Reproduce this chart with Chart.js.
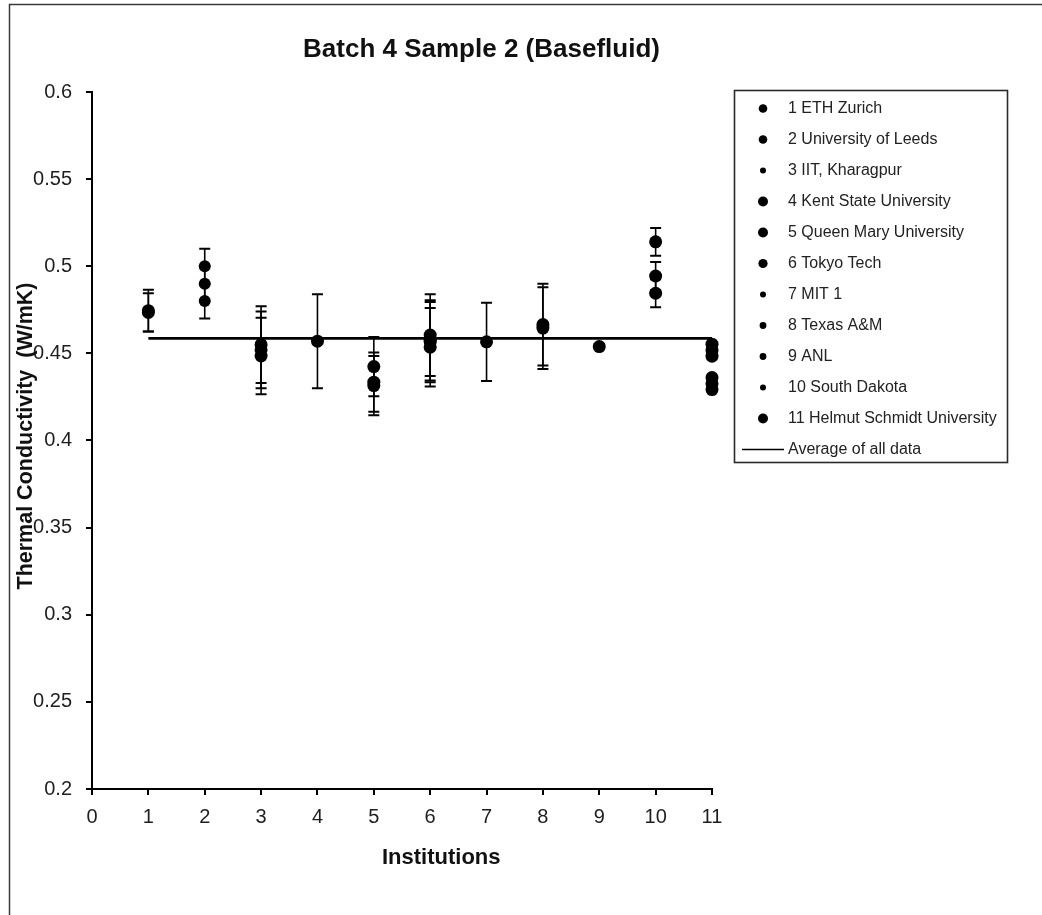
<!DOCTYPE html>
<html>
<head>
<meta charset="utf-8">
<title>Batch 4 Sample 2 (Basefluid)</title>
<script src="https://cdn.jsdelivr.net/npm/chart.js@4.4.1/dist/chart.umd.min.js"></script>
<style>
  html, body { margin: 0; padding: 0; background: #ffffff; }
  canvas { display: block; }
</style>
</head>
<body>
<canvas id="chart" width="1042" height="915"></canvas>
<script>
// ---- data ---------------------------------------------------------------
const seriesNames = [
  '1 ETH Zurich', '2 University of Leeds', '3 IIT, Kharagpur', '4 Kent State University',
  '5 Queen Mary University', '6 Tokyo Tech', '7 MIT 1', '8 Texas A&M', '9 ANL',
  '10 South Dakota', '11 Helmut Schmidt University'
];
const averageLabel = 'Average of all data';

// thermal conductivity readings (W/mK) and their uncertainties, per institution
const ethValues      = [0.4745, 0.4735];
const ethErrors      = [0.012, 0.011];
const leedsValues    = [0.500, 0.490, 0.480];
const leedsErrors    = [0.010, 0.010, 0.010];
const iitValues      = [0.455, 0.452, 0.4485];
const iitErrors      = [0.022, 0.022, 0.022];
const kentValues     = [0.457];
const kentErrors     = [0.027];
const queenValues    = [0.4424, 0.4335, 0.4315];
const queenErrors    = [0.017, 0.017, 0.017];
const tokyoValues    = [0.4605, 0.4575, 0.4565, 0.4535];
const tokyoErrors    = [0.0235, 0.023, 0.023, 0.0225];
const mitValues      = [0.4566];
const mitErrors      = [0.0225];
const texasValues    = [0.4665, 0.4645];
const texasErrors    = [0.0235, 0.0235];
const anlValues      = [0.4539];
const anlErrors      = [0.0015];
const dakotaValues   = [0.514, 0.4944, 0.4845];
const dakotaErrors   = [0.008, 0.008, 0.008];
const helmutValues   = [0.4553, 0.4518, 0.4484, 0.4361, 0.4326, 0.4292];
const helmutErrors   = [0, 0, 0, 0, 0, 0];

const averageValue = 0.4586;
const averageSpan  = [1, 11];

const xTicks = [0, 1, 2, 3, 4, 5, 6, 7, 8, 9, 10, 11];
const yTicks = [0.2, 0.25, 0.3, 0.35, 0.4, 0.45, 0.5, 0.55, 0.6];

const chartTitle = 'Batch 4 Sample 2 (Basefluid)';
const xTitle = 'Institutions';
const yTitle = 'Thermal Conductivity  (W/mK)';

// ---- datasets -----------------------------------------------------------
const measured = [
  [ethValues, ethErrors], [leedsValues, leedsErrors], [iitValues, iitErrors],
  [kentValues, kentErrors], [queenValues, queenErrors], [tokyoValues, tokyoErrors],
  [mitValues, mitErrors], [texasValues, texasErrors], [anlValues, anlErrors],
  [dakotaValues, dakotaErrors], [helmutValues, helmutErrors]
];
// legend marker sizes differ per series
const legendMarkerRadius = [4.3, 4.3, 3, 5, 5, 4.6, 3, 3.4, 3.4, 3, 5];

const FONT = '"Liberation Sans", Arial, Helvetica, sans-serif';

const datasets = measured.map(([vals, errs], i) => ({
  label: seriesNames[i],
  data: vals.map(v => ({ x: i + 1, y: v })),
  errors: errs,
  legendRadius: legendMarkerRadius[i],
  pointStyle: 'circle',
  pointRadius: i === 1 ? 6 : 6.5,
  pointHoverRadius: i === 1 ? 6 : 6.5,
  backgroundColor: '#000000',
  borderColor: '#000000',
  borderWidth: 0,
  showLine: false,
  clip: false
}));

datasets.push({
  label: averageLabel,
  data: averageSpan.map(x => ({ x, y: averageValue })),
  isAverage: true,
  showLine: true,
  borderColor: '#000000',
  borderWidth: 2.6,
  pointRadius: 0,
  pointHoverRadius: 0,
  clip: false
});

// ---- plugins ------------------------------------------------------------
const errorBars = {
  id: 'errorBars',
  beforeDatasetsDraw(chart) {
    const { ctx } = chart;
    const xs = chart.scales.x, ys = chart.scales.y;
    ctx.save();
    ctx.strokeStyle = '#000000';
    chart.data.datasets.forEach(ds => {
      if (!ds.errors) return;
      ds.data.forEach((p, i) => {
        const e = ds.errors[i];
        if (!e) return;
        const px = xs.getPixelForValue(p.x);
        const top = ys.getPixelForValue(p.y + e);
        const bot = ys.getPixelForValue(p.y - e);
        ctx.lineWidth = 1.6;
        ctx.beginPath();
        ctx.moveTo(px, top);
        ctx.lineTo(px, bot);
        ctx.stroke();
        ctx.lineWidth = 2;
        ctx.beginPath();
        ctx.moveTo(px - 5.5, top); ctx.lineTo(px + 5.5, top);
        ctx.moveTo(px - 5.5, bot); ctx.lineTo(px + 5.5, bot);
        ctx.stroke();
      });
    });
    ctx.restore();
  }
};

const decorations = {
  id: 'decorations',
  afterDraw(chart) {
    const { ctx } = chart;
    ctx.save();

    // outer frame (left and top edges)
    ctx.strokeStyle = '#3a3a3a';
    ctx.lineWidth = 1.5;
    ctx.beginPath();
    ctx.moveTo(9.5, 920);
    ctx.lineTo(9.5, 4.5);
    ctx.lineTo(1050, 4.5);
    ctx.stroke();

    // chart title
    ctx.fillStyle = '#111111';
    ctx.font = 'bold 26px ' + FONT;
    ctx.textAlign = 'center';
    ctx.textBaseline = 'alphabetic';
    ctx.fillText(chartTitle, 481.5, 57);

    // x axis title
    ctx.font = 'bold 22px ' + FONT;
    ctx.textAlign = 'left';
    ctx.fillText(xTitle, 382, 864);

    // y axis title
    ctx.save();
    ctx.translate(32, 436);
    ctx.rotate(-Math.PI / 2);
    ctx.font = 'bold 21.5px ' + FONT;
    ctx.textAlign = 'center';
    ctx.fillText(yTitle, 0, 0);
    ctx.restore();

    // legend
    const box = { left: 734.5, top: 90.5, right: 1007.5, bottom: 462.5 };
    ctx.strokeStyle = '#2a2a2a';
    ctx.lineWidth = 1.6;
    ctx.strokeRect(box.left, box.top, box.right - box.left, box.bottom - box.top);
    ctx.font = '16px ' + FONT;
    ctx.textAlign = 'left';
    ctx.textBaseline = 'middle';
    chart.data.datasets.forEach((ds, i) => {
      const rowY = 108.5 + 31 * i;
      ctx.fillStyle = '#000000';
      if (ds.isAverage) {
        ctx.strokeStyle = '#000000';
        ctx.lineWidth = 1.4;
        ctx.beginPath();
        ctx.moveTo(742, rowY);
        ctx.lineTo(784, rowY);
        ctx.stroke();
      } else {
        ctx.beginPath();
        ctx.arc(763, rowY, ds.legendRadius, 0, Math.PI * 2);
        ctx.fill();
      }
      ctx.fillStyle = '#222222';
      ctx.fillText(ds.label, 788, rowY);
    });

    ctx.restore();
  }
};

// ---- chart --------------------------------------------------------------
const axisCommon = {
  type: 'linear',
  grid: {
    display: true,
    drawOnChartArea: false,
    drawTicks: true,
    tickLength: 6,
    tickColor: '#000000',
    tickWidth: 2,
    color: '#000000',
    lineWidth: 2
  },
  border: { display: true, color: '#000000', width: 2 }
};

new Chart(document.getElementById('chart'), {
  type: 'scatter',
  data: { datasets },
  options: {
    responsive: false,
    animation: false,
    devicePixelRatio: 1,
    layout: { padding: { left: 0, top: 92, right: 330, bottom: 0 } },
    plugins: {
      legend: { display: false },
      title: { display: false },
      tooltip: { enabled: false }
    },
    scales: {
      x: {
        ...axisCommon,
        min: xTicks[0],
        max: xTicks[xTicks.length - 1],
        afterBuildTicks: s => { s.ticks = xTicks.map(v => ({ value: v })); },
        afterFit: s => { s.height = 126; },
        ticks: {
          font: { family: FONT, size: 20 },
          color: '#1e1e1e',
          padding: 10,
          maxRotation: 0,
          autoSkip: false,
          callback: v => String(v)
        }
      },
      y: {
        ...axisCommon,
        min: yTicks[0],
        max: yTicks[yTicks.length - 1],
        afterBuildTicks: s => { s.ticks = yTicks.map(v => ({ value: v })); },
        afterFit: s => { s.width = 92; },
        ticks: {
          font: { family: FONT, size: 20 },
          color: '#1e1e1e',
          padding: 14,
          autoSkip: false,
          callback: v => String(Math.round(v * 100) / 100)
        }
      }
    }
  },
  plugins: [errorBars, decorations]
});
</script>
</body>
</html>
